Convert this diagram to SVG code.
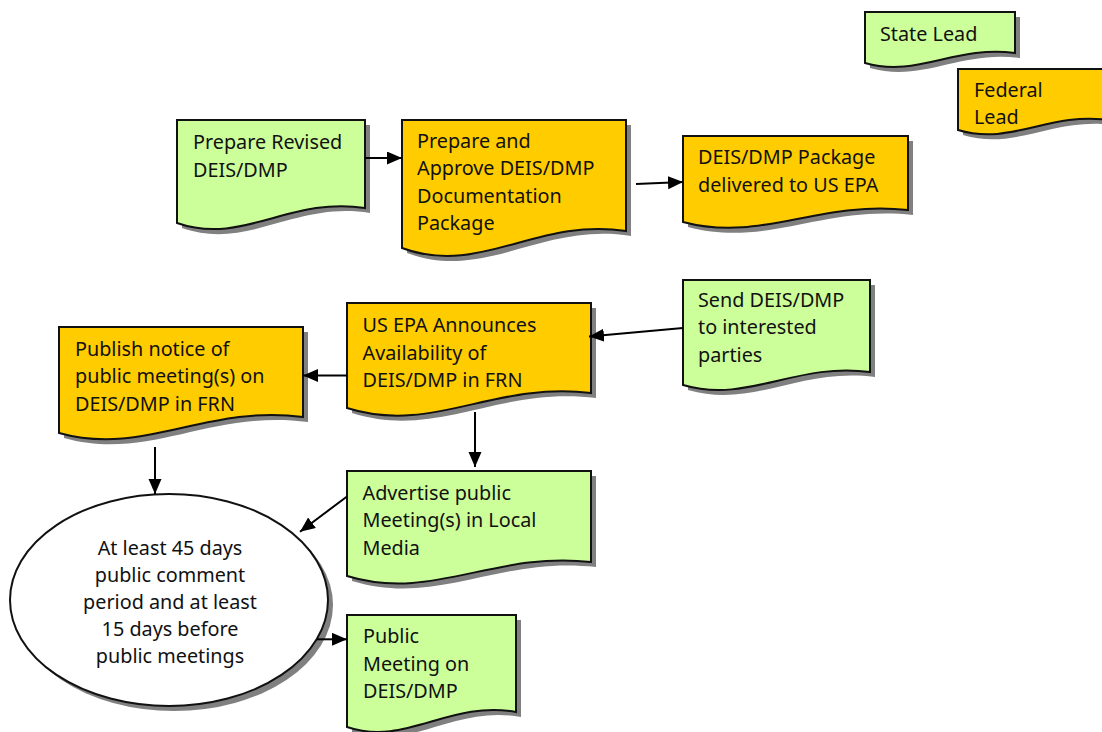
<svg xmlns="http://www.w3.org/2000/svg" xmlns:xlink="http://www.w3.org/1999/xlink" width="1102" height="732" viewBox="0 0 1102 732">
<style>
  .shadow { fill: #808080; stroke: none; }
  .green { fill: #CCFF99; stroke: #111; stroke-width: 2; }
  .orange { fill: #FFCC00; stroke: #111; stroke-width: 2; }
  .oval { fill: #FFFFFF; stroke: #111; stroke-width: 2; }
  text { font-family: "Noto Sans", "Open Sans", "DejaVu Sans", sans-serif; font-size: 19.8px; fill: #111; }
  .mid { text-anchor: middle; }
  .conn { stroke: #000; stroke-width: 2; fill: none; marker-end: url(#arrow); }
</style>
<defs>
  <marker id="arrow" markerUnits="userSpaceOnUse" markerWidth="16" markerHeight="14" refX="15" refY="6.5" orient="auto">
    <path d="M0,0 L15,6.5 L0,13 Z" fill="#000"/>
  </marker>
  <path id="p-state" d="M865,12 H1015 V53 C955,45 917.5,78 865,63 Z"/>
  <path id="p-federal" d="M958,69 H1108 V120 C1048,112 1010.5,146 958,130 Z"/>
  <path id="p-revised" d="M177,120 H365 V208 C289.8,196 242.8,246 177,223 Z"/>
  <path id="p-approve" d="M402,120 H626 V231 C536.4,217 480.4,277 402,248 Z"/>
  <path id="p-package" d="M683,136 H908 V210 C818,200 761.75,243 683,222 Z"/>
  <path id="p-send" d="M683,280 H870 V372 C795.2,362 748.5,404 683,385 Z"/>
  <path id="p-announce" d="M347,303 H591 V393 C493.4,381 432.4,435 347,408 Z"/>
  <path id="p-publish" d="M59,327 H303 V417 C205.4,404 144.4,457 59,433 Z"/>
  <path id="p-advertise" d="M347,471 H591 V562 C493.4,551 432.4,602 347,576 Z"/>
  <path id="p-meeting" d="M347,615 H516 V712 C448.4,700 406.2,747 347,727 Z"/>
</defs>

<g id="state-lead">
  <use xlink:href="#p-state" href="#p-state" class="shadow" transform="translate(5,5)"/>
  <use xlink:href="#p-state" href="#p-state" class="green"/>
  <text x="880" y="41">State Lead</text>
</g>

<g id="federal-lead">
  <use xlink:href="#p-federal" href="#p-federal" class="shadow" transform="translate(5,5)"/>
  <use xlink:href="#p-federal" href="#p-federal" class="orange"/>
  <text x="974" y="97">Federal</text>
  <text x="974" y="124">Lead</text>
</g>

<g id="prepare-revised">
  <use xlink:href="#p-revised" href="#p-revised" class="shadow" transform="translate(5,5)"/>
  <use xlink:href="#p-revised" href="#p-revised" class="green"/>
  <text x="193" y="149">Prepare Revised</text>
  <text x="193" y="176.5">DEIS/DMP</text>
</g>

<g id="prepare-approve">
  <use xlink:href="#p-approve" href="#p-approve" class="shadow" transform="translate(5,5)"/>
  <use xlink:href="#p-approve" href="#p-approve" class="orange"/>
  <text x="417" y="148">Prepare and</text>
  <text x="417" y="175.3">Approve DEIS/DMP</text>
  <text x="417" y="202.6">Documentation</text>
  <text x="417" y="230">Package</text>
</g>

<g id="package-delivered">
  <use xlink:href="#p-package" href="#p-package" class="shadow" transform="translate(5,5)"/>
  <use xlink:href="#p-package" href="#p-package" class="orange"/>
  <text x="698" y="164">DEIS/DMP Package</text>
  <text x="698" y="191.5">delivered to US EPA</text>
</g>

<g id="send-parties">
  <use xlink:href="#p-send" href="#p-send" class="shadow" transform="translate(5,5)"/>
  <use xlink:href="#p-send" href="#p-send" class="green"/>
  <text x="698" y="307">Send DEIS/DMP</text>
  <text x="698" y="334.3">to interested</text>
  <text x="698" y="361.6">parties</text>
</g>

<g id="epa-announces">
  <use xlink:href="#p-announce" href="#p-announce" class="shadow" transform="translate(5,5)"/>
  <use xlink:href="#p-announce" href="#p-announce" class="orange"/>
  <text x="362.5" y="332.3">US EPA Announces</text>
  <text x="362.5" y="359.6">Availability of</text>
  <text x="362.5" y="386.9">DEIS/DMP in FRN</text>
</g>

<g id="publish-notice">
  <use xlink:href="#p-publish" href="#p-publish" class="shadow" transform="translate(5,5)"/>
  <use xlink:href="#p-publish" href="#p-publish" class="orange"/>
  <text x="75" y="356">Publish notice of</text>
  <text x="75" y="383.3">public meeting(s) on</text>
  <text x="75" y="410.6">DEIS/DMP in FRN</text>
</g>

<g id="advertise-meetings">
  <use xlink:href="#p-advertise" href="#p-advertise" class="shadow" transform="translate(5,5)"/>
  <use xlink:href="#p-advertise" href="#p-advertise" class="green"/>
  <text x="362.5" y="500">Advertise public</text>
  <text x="362.5" y="527.3">Meeting(s) in Local</text>
  <text x="362.5" y="554.6">Media</text>
</g>

<g id="comment-period">
  <ellipse cx="174" cy="605" rx="159" ry="106" class="shadow"/>
  <ellipse cx="169" cy="600" rx="159" ry="106" class="oval"/>
  <text class="mid" x="170" y="555">At least 45 days</text>
  <text class="mid" x="170" y="582">public comment</text>
  <text class="mid" x="170" y="609">period and at least</text>
  <text class="mid" x="170" y="636">15 days before</text>
  <text class="mid" x="170" y="663">public meetings</text>
</g>

<g id="public-meeting">
  <use xlink:href="#p-meeting" href="#p-meeting" class="shadow" transform="translate(5,5)"/>
  <use xlink:href="#p-meeting" href="#p-meeting" class="green"/>
  <text x="363" y="643.3">Public</text>
  <text x="363" y="670.6">Meeting on</text>
  <text x="363" y="697.9">DEIS/DMP</text>
</g>

<g id="connectors">
  <path class="conn" d="M365,158 L402,158"/>
  <path class="conn" d="M636,184 L683,182"/>
  <path class="conn" d="M683,328 L589,336.5"/>
  <path class="conn" d="M347,375.5 L303,375.5"/>
  <path class="conn" d="M475,412 L475,467"/>
  <path class="conn" d="M155,447 L155,494"/>
  <path class="conn" d="M347,496.5 L300,531.7"/>
  <path class="conn" d="M317,639.3 L347,639.3"/>
</g>
</svg>
